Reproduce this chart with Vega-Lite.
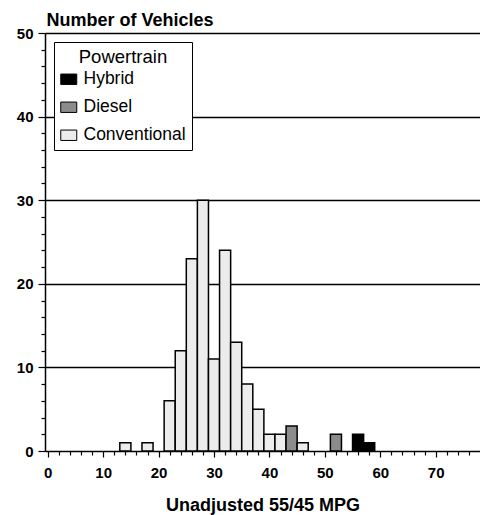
{
  "$schema": "https://vega.github.io/schema/vega-lite/v6.json",
  "width": 435,
  "height": 418,
  "autosize": "none",
  "padding": {"left": 45, "top": 33, "right": 0, "bottom": 64},
  "background": "white",
  "config": {
    "view": {"stroke": null},
    "font": "Liberation Sans"
  },
  "data": {
    "values": [
      {"bin_start": 13, "bin_end": 15, "count": 1, "powertrain": "Conventional"},
      {"bin_start": 17, "bin_end": 19, "count": 1, "powertrain": "Conventional"},
      {"bin_start": 21, "bin_end": 23, "count": 6, "powertrain": "Conventional"},
      {"bin_start": 23, "bin_end": 25, "count": 12, "powertrain": "Conventional"},
      {"bin_start": 25, "bin_end": 27, "count": 23, "powertrain": "Conventional"},
      {"bin_start": 27, "bin_end": 29, "count": 30, "powertrain": "Conventional"},
      {"bin_start": 29, "bin_end": 31, "count": 11, "powertrain": "Conventional"},
      {"bin_start": 31, "bin_end": 33, "count": 24, "powertrain": "Conventional"},
      {"bin_start": 33, "bin_end": 35, "count": 13, "powertrain": "Conventional"},
      {"bin_start": 35, "bin_end": 37, "count": 8, "powertrain": "Conventional"},
      {"bin_start": 37, "bin_end": 39, "count": 5, "powertrain": "Conventional"},
      {"bin_start": 39, "bin_end": 41, "count": 2, "powertrain": "Conventional"},
      {"bin_start": 41, "bin_end": 43, "count": 2, "powertrain": "Conventional"},
      {"bin_start": 43, "bin_end": 45, "count": 3, "powertrain": "Diesel"},
      {"bin_start": 45, "bin_end": 47, "count": 1, "powertrain": "Conventional"},
      {"bin_start": 51, "bin_end": 53, "count": 2, "powertrain": "Diesel"},
      {"bin_start": 55, "bin_end": 57, "count": 2, "powertrain": "Hybrid"},
      {"bin_start": 57, "bin_end": 59, "count": 1, "powertrain": "Hybrid"}
    ]
  },
  "mark": {"type": "bar", "stroke": "black", "strokeWidth": 1.5},
  "encoding": {
    "x": {
      "field": "bin_start",
      "type": "quantitative",
      "scale": {"domain": [-0.5, 78], "nice": false, "zero": false},
      "axis": {
        "title": "Unadjusted 55/45 MPG",
        "titleFont": "Liberation Sans",
        "titleFontSize": 18,
        "titleFontWeight": "bold",
        "titleColor": "black",
        "titleY": 59,
        "titleBaseline": "alphabetic",
        "values": [0,2,4,6,8,10,12,14,16,18,20,22,24,26,28,30,32,34,36,38,40,42,44,46,48,50,52,54,56,58,60,62,64,66,68,70,72,74,76],
        "labelExpr": "datum.value % 10 === 0 ? datum.label : ''",
        "tickSize": {"expr": "datum.value % 10 === 0 ? 6 : 4"},
        "labelFont": "Liberation Sans",
        "labelFontSize": 15,
        "labelFontWeight": "bold",
        "labelColor": "black",
        "labelPadding": 8,
        "labelOverlap": false,
        "labelFlush": false,
        "tickColor": "black",
        "tickWidth": 1.2,
        "domainColor": "black",
        "domainWidth": 1.5,
        "grid": false
      }
    },
    "x2": {"field": "bin_end"},
    "y": {
      "field": "count",
      "type": "quantitative",
      "stack": null,
      "scale": {"domain": [0, 50], "nice": false},
      "axis": {
        "title": "Number of Vehicles",
        "titleAngle": 0,
        "titleAlign": "left",
        "titleBaseline": "alphabetic",
        "titleX": 1,
        "titleY": -8,
        "titleFont": "Liberation Sans",
        "titleFontSize": 18,
        "titleFontWeight": "bold",
        "titleColor": "black",
        "values": [0,2,4,6,8,10,12,14,16,18,20,22,24,26,28,30,32,34,36,38,40,42,44,46,48,50],
        "labelExpr": "datum.value % 10 === 0 ? datum.label : ''",
        "tickSize": {"expr": "datum.value % 10 === 0 ? 7 : 4"},
        "grid": true,
        "gridColor": "black",
        "gridWidth": 1.5,
        "gridOpacity": {"expr": "datum.value % 10 === 0 && datum.value > 0 ? 1 : 0"},
        "labelFont": "Liberation Sans",
        "labelFontSize": 15,
        "labelFontWeight": "bold",
        "labelColor": "black",
        "labelPadding": 5,
        "labelOverlap": false,
        "labelFlush": false,
        "tickColor": "black",
        "tickWidth": 1.2,
        "domainColor": "black",
        "domainWidth": 1.5
      }
    },
    "y2": {"datum": 0},
    "color": {
      "field": "powertrain",
      "type": "nominal",
      "scale": {
        "domain": ["Hybrid", "Diesel", "Conventional"],
        "range": ["#000000", "#8c8c8c", "#ececec"]
      },
      "legend": {
        "title": "Powertrain",
        "orient": "none",
        "legendX": 9,
        "legendY": 9,
        "direction": "vertical",
        "strokeColor": "black",
        "fillColor": "white",
        "padding": 6,
        "titleAnchor": "middle",
        "titleFont": "Liberation Sans",
        "titleFontSize": 18.5,
        "titleFontWeight": "normal",
        "titleColor": "black",
        "titlePadding": 4,
        "labelFont": "Liberation Sans",
        "labelFontSize": 17.5,
        "labelColor": "black",
        "labelOffset": 6,
        "rowPadding": 9,
        "symbolType": "M-1,-0.65H1V0.65H-1Z",
        "symbolSize": 256,
        "symbolStrokeColor": "black",
        "symbolStrokeWidth": 1,
        "symbolOpacity": 1
      }
    }
  }
}
